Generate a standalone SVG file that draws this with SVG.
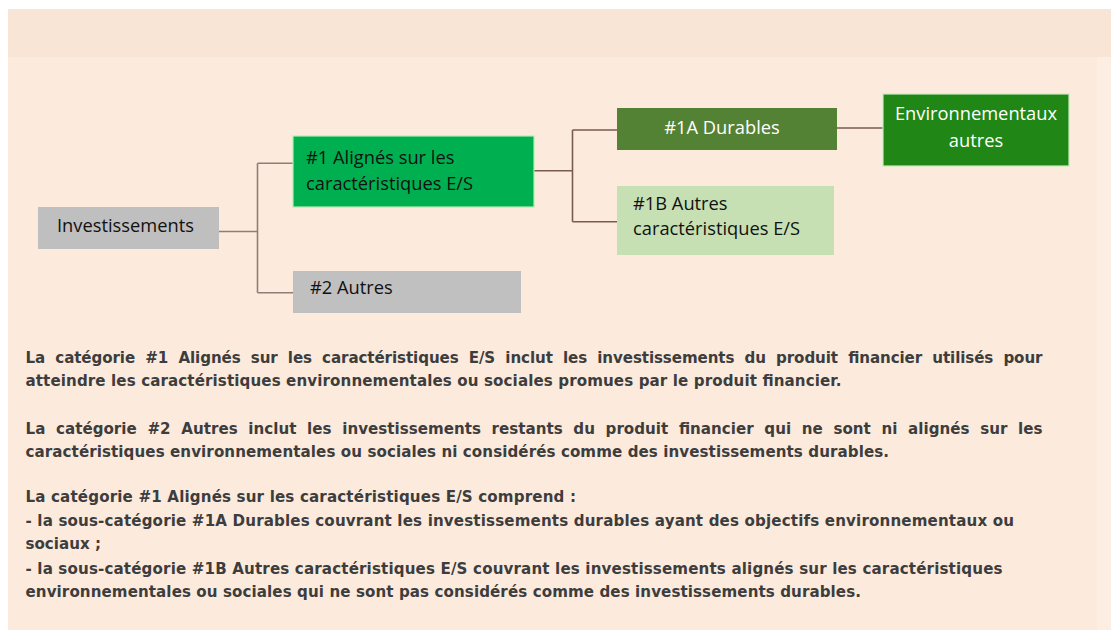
<svg xmlns="http://www.w3.org/2000/svg" width="1111" height="630" viewBox="0 0 1111 630">
<style>
.node-text{font-family:"Open Sans","Liberation Sans",sans-serif;font-size:18.3px;fill:#111111}
.node-text.white{fill:#ffffff}
.conn-a{stroke:#8f7d78;stroke-width:1.6;fill:none}
.conn-b{stroke:#7a5a52;stroke-width:1.6;fill:none}
.body{font-family:"DejaVu Sans","Verdana",sans-serif;font-weight:bold;font-size:15.1px;fill:#3d3d3d}
</style>
<rect x="0" y="0" width="1111" height="630" fill="#ffffff"/>
<rect x="8" y="9" width="1103" height="621" fill="#fcebdd"/>
<rect x="8" y="9" width="1103" height="48" fill="#f8e5d6"/>
<rect x="1097" y="57" width="14" height="573" fill="#fdeee3"/>

<g id="connectors">
  <path class="conn-a" d="M219,231.5 H257.5 M257.5,163.3 V292.7 M257.5,163.3 H293 M257.5,292.7 H297"/>
  <path class="conn-b" d="M534,170.7 H572.5 M572.5,130 V221.7 M572.5,130 H617 M572.5,221.7 H617"/>
  <path class="conn-b" d="M837,128 H883"/>
</g>

<g id="node-investissements">
  <rect x="38" y="207" width="181" height="42" fill="#bfbfbf"/>
  <text class="node-text" x="57" y="232">Investissements</text>
</g>

<g id="node-1">
  <rect x="293" y="136" width="241" height="71" fill="#00b050" stroke="#b5ecb0" stroke-width="1.2"/>
  <text class="node-text" x="306" y="164">#1 Alignés sur les</text>
  <text class="node-text" x="306" y="190">caractéristiques E/S</text>
</g>

<g id="node-2">
  <rect x="293" y="271" width="228" height="42" fill="#c0c0c0"/>
  <text class="node-text" x="310" y="294">#2 Autres</text>
</g>

<g id="node-1a">
  <rect x="617" y="108" width="220" height="42" fill="#548235"/>
  <text class="node-text white" x="722" y="134" text-anchor="middle">#1A Durables</text>
</g>

<g id="node-1b">
  <rect x="617" y="186" width="217" height="69" fill="#c6e0b4"/>
  <text class="node-text" x="633" y="210">#1B Autres</text>
  <text class="node-text" x="633" y="235">caractéristiques E/S</text>
</g>

<g id="node-env">
  <rect x="883" y="94" width="186" height="72" fill="#208716" stroke="#c5ecbf" stroke-width="1.2"/>
  <text class="node-text white" x="976" y="120" text-anchor="middle">Environnementaux</text>
  <text class="node-text white" x="976" y="147" text-anchor="middle">autres</text>
</g>

<g id="legend-text">
  <text class="body" x="25.5" y="363" word-spacing="5" textLength="1017" lengthAdjust="spacing">La catégorie #1 Alignés sur les caractéristiques E/S inclut les investissements du produit financier utilisés pour</text>
  <text class="body" x="25.5" y="386" textLength="816" lengthAdjust="spacing">atteindre les caractéristiques environnementales ou sociales promues par le produit financier.</text>
  <text class="body" x="25.5" y="433.5" word-spacing="5.4" textLength="1017" lengthAdjust="spacing">La catégorie #2 Autres inclut les investissements restants du produit financier qui ne sont ni alignés sur les</text>
  <text class="body" x="25.5" y="457" textLength="863.5" lengthAdjust="spacing">caractéristiques environnementales ou sociales ni considérés comme des investissements durables.</text>
  <text class="body" x="25.5" y="502" textLength="550.5" lengthAdjust="spacing">La catégorie #1 Alignés sur les caractéristiques E/S comprend :</text>
  <text class="body" x="25.5" y="525.7" textLength="988.5" lengthAdjust="spacing">- la sous-catégorie #1A Durables couvrant les investissements durables ayant des objectifs environnementaux ou</text>
  <text class="body" x="25.5" y="549">sociaux ;</text>
  <text class="body" x="25.5" y="574" textLength="977" lengthAdjust="spacing">- la sous-catégorie #1B Autres caractéristiques E/S couvrant les investissements alignés sur les caractéristiques</text>
  <text class="body" x="25.5" y="597" textLength="835.5" lengthAdjust="spacing">environnementales ou sociales qui ne sont pas considérés comme des investissements durables.</text>
</g>
</svg>
